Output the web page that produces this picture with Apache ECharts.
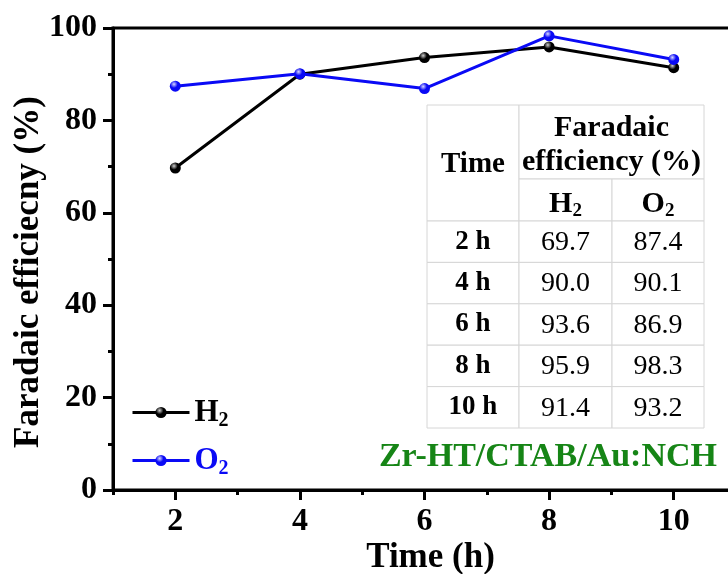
<!DOCTYPE html>
<html>
<head>
<meta charset="utf-8">
<script src="https://cdn.jsdelivr.net/npm/echarts@6/dist/echarts.min.js"></script>
<style>html,body{margin:0;padding:0;background:#fff}#c{width:728px;height:574px}</style>
</head>
<body>
<div id="c"></div>
<script>
// ---- data ----
const times = [2, 4, 6, 8, 10];
const h2Values = [69.7, 90.0, 93.6, 95.9, 91.4];
const o2Values = [87.4, 90.1, 86.9, 98.3, 93.2];
const xMajorTicks = [2, 4, 6, 8, 10];
const xMinorTicks = [1, 3, 5, 7, 9, 11];
const timeLabels = ['2 h', '4 h', '6 h', '8 h', '10 h'];
const seriesNames = ['H2', 'O2'];
const sampleLabel = 'Zr-HT/CTAB/Au:NCH';

const FONT = '"Liberation Serif", "Times New Roman", serif';
const BLUE = '#0a0af5';
const GREEN = '#168516';

const chart = echarts.init(document.getElementById('c'), null, {renderer: 'canvas'});

function subRich(color, main, sub, lh) {
  return {
    m: {fontFamily: FONT, fontWeight: 'bold', fontSize: main, lineHeight: lh, color: color},
    s: {fontFamily: FONT, fontWeight: 'bold', fontSize: sub, lineHeight: 16, verticalAlign: 'bottom', color: color}
  };
}
const subFmt = name => '{m|' + name[0] + '}{s|' + name.slice(1) + '}';

// ---- table graphic built from data ----
const tbl = {x0: 427, x1: 519, x2: 612, x3: 704, y0: 105, y1: 179, y2: 221, rowH: 41.4};
const cellStyle = {fill: '#fff', stroke: '#d6d6d6', lineWidth: 1};
const els = [];
function rect(x, y, w, h) { els.push({type: 'rect', shape: {x: x, y: y, width: w, height: h}, style: cellStyle, z: 10}); }
function txt(x, y, text, opts) {
  els.push({type: 'text', x: x, y: y, z: 11, style: Object.assign({
    text: text, fontFamily: FONT, fontSize: 26, fill: '#000', align: 'center', verticalAlign: 'middle'
  }, opts || {})});
}
rect(tbl.x0, tbl.y0, tbl.x1 - tbl.x0, tbl.y2 - tbl.y0);
rect(tbl.x1, tbl.y0, tbl.x3 - tbl.x1, tbl.y1 - tbl.y0);
rect(tbl.x1, tbl.y1, tbl.x2 - tbl.x1, tbl.y2 - tbl.y1);
rect(tbl.x2, tbl.y1, tbl.x3 - tbl.x2, tbl.y2 - tbl.y1);
txt((tbl.x0 + tbl.x1) / 2, (tbl.y0 + tbl.y2) / 2 + 2, 'Time', {fontWeight: 'bold', fontSize: 29});
txt((tbl.x1 + tbl.x3) / 2, (tbl.y0 + tbl.y1) / 2 + 3, 'Faradaic\nefficiency (%)', {fontWeight: 'bold', fontSize: 30, lineHeight: 34});
[tbl.x1, tbl.x2].forEach((xa, k) => {
  const xb = k === 0 ? tbl.x2 : tbl.x3;
  txt((xa + xb) / 2, (tbl.y1 + tbl.y2) / 2 + 4, subFmt(seriesNames[k]), {rich: subRich('#000', 30, 19, 34)});
});
times.forEach((t, i) => {
  const y = tbl.y2 + i * tbl.rowH;
  rect(tbl.x0, y, tbl.x1 - tbl.x0, tbl.rowH);
  rect(tbl.x1, y, tbl.x2 - tbl.x1, tbl.rowH);
  rect(tbl.x2, y, tbl.x3 - tbl.x2, tbl.rowH);
  const cy = y + tbl.rowH / 2;
  txt((tbl.x0 + tbl.x1) / 2, cy, timeLabels[i], {fontWeight: 'bold', fontSize: 27});
  txt((tbl.x1 + tbl.x2) / 2, cy + 1, h2Values[i].toFixed(1), {fontSize: 28});
  txt((tbl.x2 + tbl.x3) / 2, cy + 1, o2Values[i].toFixed(1), {fontSize: 28});
});
els.push({type: 'text', x: 717, y: 457, z: 11, style: {
  text: sampleLabel, fontFamily: FONT, fontWeight: 'bold', fontSize: 34, fill: GREEN, align: 'right', verticalAlign: 'middle'
}});

function sphere(dark, light) {
  return {type: 'radial', x: 0.38, y: 0.32, r: 0.62, colorStops: [{offset: 0, color: light}, {offset: 0.55, color: dark}, {offset: 1, color: dark}]};
}

const axisLineStyle = {color: '#000', width: 3};
const labelStyle = {color: '#000', fontFamily: FONT, fontWeight: 'bold', fontSize: 32};

chart.setOption({
  animation: false,
  backgroundColor: '#fff',
  grid: {left: 113, top: 28, width: 623, height: 462, show: true, borderColor: '#000', borderWidth: 3,
         backgroundColor: 'transparent', containLabel: false, outerBoundsMode: 'none'},
  legend: [
    {left: 126, top: 392, itemWidth: 57, itemHeight: 14, itemGap: 8, data: [seriesNames[0]], formatter: subFmt,
     lineStyle: {width: 3},
     textStyle: {color: '#000', fontFamily: FONT, fontWeight: 'bold', fontSize: 31, rich: subRich('#000', 31, 20, 36)}},
    {left: 126, top: 440, itemWidth: 57, itemHeight: 14, itemGap: 8, data: [seriesNames[1]], formatter: subFmt,
     lineStyle: {width: 3},
     textStyle: {color: BLUE, fontFamily: FONT, fontWeight: 'bold', fontSize: 31, rich: subRich(BLUE, 31, 20, 36)}}
  ],
  xAxis: [
    {type: 'value', min: 1, max: 11, position: 'bottom',
     name: 'Time (h)', nameLocation: 'middle', nameGap: 50, nameMoveOverlap: false,
     nameTextStyle: {color: '#000', fontFamily: FONT, fontWeight: 'bold', fontSize: 35, padding: [0, 0, 0, 12]},
     axisLine: {show: true, onZero: false, lineStyle: axisLineStyle},
     axisTick: {show: true, inside: false, length: 10, lineStyle: {width: 3, color: '#000'}, customValues: xMajorTicks},
     axisLabel: Object.assign({margin: 16, customValues: xMajorTicks}, labelStyle),
     splitLine: {show: false}},
    {type: 'value', min: 1, max: 11, position: 'bottom',
     axisLine: {show: false},
     axisTick: {show: true, inside: false, length: 5, lineStyle: {width: 3, color: '#000'}, customValues: xMinorTicks},
     axisLabel: {show: false, customValues: xMinorTicks},
     splitLine: {show: false}}
  ],
  yAxis: {type: 'value', min: 0, max: 100, interval: 20,
    name: 'Faradaic efficiecny (%)', nameLocation: 'middle', nameGap: 67, nameMoveOverlap: false,
    nameTextStyle: {color: '#000', fontFamily: FONT, fontWeight: 'bold', fontSize: 35, padding: [0, 26, 0, 0]},
    axisLine: {show: true, lineStyle: axisLineStyle},
    axisTick: {show: true, length: 10, lineStyle: {width: 3, color: '#000'}},
    minorTick: {show: true, splitNumber: 2, length: 5, lineStyle: {width: 3, color: '#000'}},
    axisLabel: Object.assign({margin: 16}, labelStyle),
    splitLine: {show: false}},
  series: [
    {name: seriesNames[0], type: 'line', xAxisIndex: 0, data: times.map((t, i) => [t, h2Values[i]]),
     symbol: 'circle', symbolSize: 11, lineStyle: {color: '#000', width: 3},
     itemStyle: {color: sphere('#000', '#d0d0d0'), borderWidth: 0}, z: 3},
    {name: seriesNames[1], type: 'line', xAxisIndex: 0, data: times.map((t, i) => [t, o2Values[i]]),
     symbol: 'circle', symbolSize: 11, lineStyle: {color: BLUE, width: 3},
     itemStyle: {color: sphere(BLUE, '#d8d8ff'), borderWidth: 0}, z: 4}
  ],
  graphic: {elements: els}
});
</script>
</body>
</html>
